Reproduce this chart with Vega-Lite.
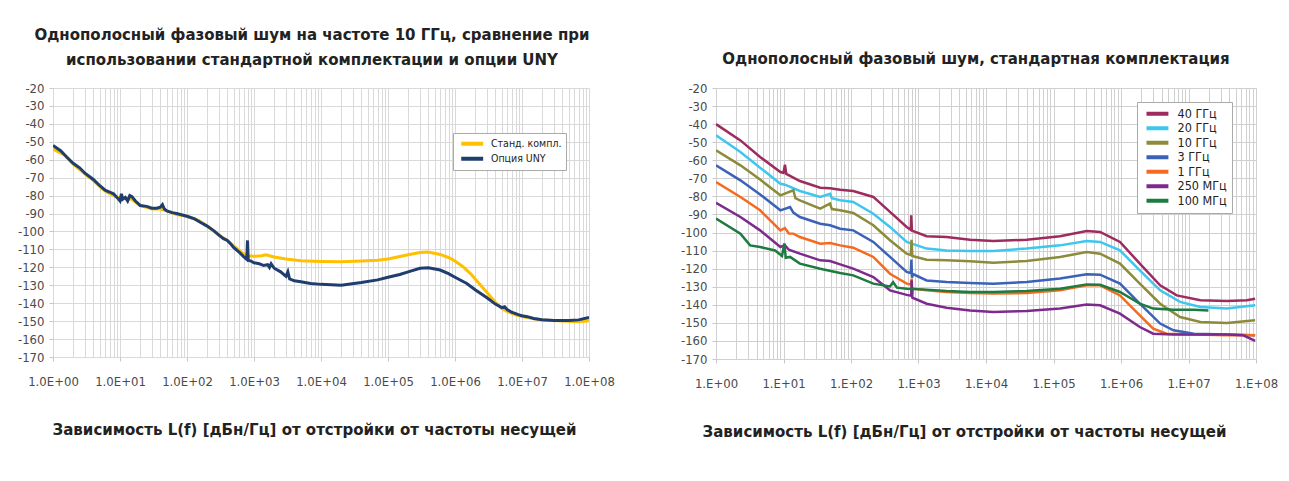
{
  "$schema": "https://vega.github.io/schema/vega-lite/v6.json",
  "background": "white",
  "padding": {"left": 17, "top": 28, "right": 5, "bottom": 5},
  "bounds": "flush",
  "spacing": 127,
  "config": {
    "view": {"stroke": null},
    "axis": {"gridColor": "#d9d9d9", "gridWidth": 1, "domain": false, "ticks": true, "tickColor": "#c8c8c8", "labelFont": "DejaVu Sans Condensed", "labelFontSize": 13, "labelColor": "#4a4a4a", "titleFont": "DejaVu Sans", "titleFontWeight": "bold", "titleFontSize": 15, "titleColor": "#222222"},
    "axisX": {"tickSize": 4, "labelPadding": 14, "titlePadding": 34, "labelFlush": false, "labelOverlap": false},
    "axisY": {"tickSize": 4, "labelPadding": 5, "labelOverlap": false},
    "title": {"font": "DejaVu Sans", "fontSize": 15, "fontWeight": "bold", "color": "#222222", "anchor": "middle"},
    "legend": {"orient": "none", "symbolType": "M-0.5,0H5.7", "symbolStrokeWidth": 4, "symbolSize": 50, "labelFont": "DejaVu Sans Condensed", "labelColor": "#222222", "fillColor": "white", "strokeColor": "#aaaaaa", "padding": 5, "rowPadding": 0.5, "labelOffset": 23}
  },
  "resolve": {"scale": {"color": "independent"}, "legend": {"color": "independent"}},
  "datasets": {
    "left": [
      {"s":"Станд. компл.","f":1,"L":-54},{"s":"Станд. компл.","f":1.5,"L":-57.5},{"s":"Станд. компл.","f":2,"L":-62.5},{"s":"Станд. компл.","f":3,"L":-68},{"s":"Станд. компл.","f":4,"L":-71.5},{"s":"Станд. компл.","f":5,"L":-75},{"s":"Станд. компл.","f":6,"L":-77.5},{"s":"Станд. компл.","f":8,"L":-80},{"s":"Станд. компл.","f":10,"L":-81.5},{"s":"Станд. компл.","f":12,"L":-81.5},{"s":"Станд. компл.","f":15,"L":-82},{"s":"Станд. компл.","f":20,"L":-85.5},{"s":"Станд. компл.","f":30,"L":-87.5},{"s":"Станд. компл.","f":40,"L":-87.5},{"s":"Станд. компл.","f":50,"L":-88.5},{"s":"Станд. компл.","f":70,"L":-90.5},{"s":"Станд. компл.","f":100,"L":-91.5},{"s":"Станд. компл.","f":150,"L":-94},{"s":"Станд. компл.","f":200,"L":-97},{"s":"Станд. компл.","f":300,"L":-102},{"s":"Станд. компл.","f":400,"L":-105},{"s":"Станд. компл.","f":500,"L":-108},{"s":"Станд. компл.","f":600,"L":-110.5},{"s":"Станд. компл.","f":700,"L":-112.5},{"s":"Станд. компл.","f":800,"L":-113.5},{"s":"Станд. компл.","f":1000,"L":-113.8},{"s":"Станд. компл.","f":1300,"L":-113.5},{"s":"Станд. компл.","f":1500,"L":-113},{"s":"Станд. компл.","f":2000,"L":-114.2},{"s":"Станд. компл.","f":3000,"L":-115.3},{"s":"Станд. компл.","f":5000,"L":-116.3},{"s":"Станд. компл.","f":10000,"L":-116.7},{"s":"Станд. компл.","f":20000,"L":-116.9},{"s":"Станд. компл.","f":40000,"L":-116.5},{"s":"Станд. компл.","f":70000,"L":-116},{"s":"Станд. компл.","f":100000,"L":-115.3},{"s":"Станд. компл.","f":150000,"L":-114},{"s":"Станд. компл.","f":200000,"L":-113},{"s":"Станд. компл.","f":300000,"L":-111.7},{"s":"Станд. компл.","f":400000,"L":-111.5},{"s":"Станд. компл.","f":600000,"L":-112.8},{"s":"Станд. компл.","f":800000,"L":-114.5},{"s":"Станд. компл.","f":1000000,"L":-116.5},{"s":"Станд. компл.","f":1300000,"L":-119.5},{"s":"Станд. компл.","f":1700000,"L":-123.5},{"s":"Станд. компл.","f":2000000,"L":-126.5},{"s":"Станд. компл.","f":3000000,"L":-134},{"s":"Станд. компл.","f":4000000,"L":-139.5},{"s":"Станд. компл.","f":5000000,"L":-143},{"s":"Станд. компл.","f":6000000,"L":-144.5},{"s":"Станд. компл.","f":8000000,"L":-146.5},{"s":"Станд. компл.","f":10000000,"L":-147.5},{"s":"Станд. компл.","f":15000000,"L":-148.7},{"s":"Станд. компл.","f":20000000,"L":-149.4},{"s":"Станд. компл.","f":40000000,"L":-149.9},{"s":"Станд. компл.","f":70000000,"L":-150.3},{"s":"Станд. компл.","f":100000000,"L":-149.8},
      {"s":"Опция UNY","f":1,"L":-52},{"s":"Опция UNY","f":1.3,"L":-55},{"s":"Опция UNY","f":1.6,"L":-58.5},{"s":"Опция UNY","f":2,"L":-62},{"s":"Опция UNY","f":2.5,"L":-64.5},{"s":"Опция UNY","f":3,"L":-67.5},{"s":"Опция UNY","f":4,"L":-71},{"s":"Опция UNY","f":5,"L":-74.5},{"s":"Опция UNY","f":6,"L":-77},{"s":"Опция UNY","f":7,"L":-78},{"s":"Опция UNY","f":8,"L":-79},{"s":"Опция UNY","f":9,"L":-81},{"s":"Опция UNY","f":10,"L":-83},{"s":"Опция UNY","f":10.5,"L":-79},{"s":"Опция UNY","f":11,"L":-82},{"s":"Опция UNY","f":12,"L":-81},{"s":"Опция UNY","f":13,"L":-83},{"s":"Опция UNY","f":14,"L":-80},{"s":"Опция UNY","f":15,"L":-80.5},{"s":"Опция UNY","f":17,"L":-83},{"s":"Опция UNY","f":20,"L":-85.5},{"s":"Опция UNY","f":25,"L":-86},{"s":"Опция UNY","f":30,"L":-87},{"s":"Опция UNY","f":35,"L":-87},{"s":"Опция UNY","f":40,"L":-86.5},{"s":"Опция UNY","f":43,"L":-85},{"s":"Опция UNY","f":46,"L":-87.5},{"s":"Опция UNY","f":50,"L":-88.5},{"s":"Опция UNY","f":60,"L":-89.5},{"s":"Опция UNY","f":70,"L":-90},{"s":"Опция UNY","f":80,"L":-90.5},{"s":"Опция UNY","f":100,"L":-91.5},{"s":"Опция UNY","f":130,"L":-93},{"s":"Опция UNY","f":160,"L":-95},{"s":"Опция UNY","f":200,"L":-97},{"s":"Опция UNY","f":250,"L":-99.5},{"s":"Опция UNY","f":300,"L":-102},{"s":"Опция UNY","f":350,"L":-104},{"s":"Опция UNY","f":400,"L":-105},{"s":"Опция UNY","f":450,"L":-107},{"s":"Опция UNY","f":500,"L":-109},{"s":"Опция UNY","f":600,"L":-111.5},{"s":"Опция UNY","f":700,"L":-114},{"s":"Опция UNY","f":780,"L":-115.5},{"s":"Опция UNY","f":800,"L":-105},{"s":"Опция UNY","f":820,"L":-116},{"s":"Опция UNY","f":900,"L":-116.5},{"s":"Опция UNY","f":1000,"L":-117.5},{"s":"Опция UNY","f":1200,"L":-118},{"s":"Опция UNY","f":1400,"L":-119},{"s":"Опция UNY","f":1600,"L":-118.5},{"s":"Опция UNY","f":1700,"L":-120},{"s":"Опция UNY","f":1800,"L":-118},{"s":"Опция UNY","f":2000,"L":-120.5},{"s":"Опция UNY","f":2500,"L":-122.5},{"s":"Опция UNY","f":3000,"L":-125},{"s":"Опция UNY","f":3200,"L":-122.5},{"s":"Опция UNY","f":3400,"L":-126.5},{"s":"Опция UNY","f":4000,"L":-127.5},{"s":"Опция UNY","f":5000,"L":-128},{"s":"Опция UNY","f":7000,"L":-129},{"s":"Опция UNY","f":10000,"L":-129.5},{"s":"Опция UNY","f":20000,"L":-130},{"s":"Опция UNY","f":40000,"L":-128.5},{"s":"Опция UNY","f":70000,"L":-127},{"s":"Опция UNY","f":100000,"L":-125.5},{"s":"Опция UNY","f":150000,"L":-124},{"s":"Опция UNY","f":200000,"L":-122.5},{"s":"Опция UNY","f":300000,"L":-120.5},{"s":"Опция UNY","f":400000,"L":-120.3},{"s":"Опция UNY","f":600000,"L":-121.5},{"s":"Опция UNY","f":800000,"L":-123.5},{"s":"Опция UNY","f":1000000,"L":-125.5},{"s":"Опция UNY","f":1500000,"L":-129},{"s":"Опция UNY","f":2000000,"L":-132.5},{"s":"Опция UNY","f":3000000,"L":-137},{"s":"Опция UNY","f":4000000,"L":-140.5},{"s":"Опция UNY","f":5000000,"L":-142.5},{"s":"Опция UNY","f":5500000,"L":-142},{"s":"Опция UNY","f":6000000,"L":-143.5},{"s":"Опция UNY","f":7000000,"L":-145},{"s":"Опция UNY","f":9000000,"L":-146.5},{"s":"Опция UNY","f":10000000,"L":-147},{"s":"Опция UNY","f":12000000,"L":-147.5},{"s":"Опция UNY","f":15000000,"L":-148.5},{"s":"Опция UNY","f":20000000,"L":-149.2},{"s":"Опция UNY","f":30000000,"L":-149.7},{"s":"Опция UNY","f":50000000,"L":-149.6},{"s":"Опция UNY","f":70000000,"L":-149.3},{"s":"Опция UNY","f":100000000,"L":-147.9}
    ],
    "right": [
      {"s":"40 ГГц","f":1,"L":-40},{"s":"40 ГГц","f":2.3,"L":-49},{"s":"40 ГГц","f":4.5,"L":-58.2},{"s":"40 ГГц","f":9,"L":-66.5},{"s":"40 ГГц","f":10,"L":-67},{"s":"40 ГГц","f":10.5,"L":-62.5},{"s":"40 ГГц","f":11,"L":-67.5},{"s":"40 ГГц","f":17.5,"L":-71.5},{"s":"40 ГГц","f":35,"L":-75.2},{"s":"40 ГГц","f":49,"L":-75.5},{"s":"40 ГГц","f":69,"L":-76.3},{"s":"40 ГГц","f":108,"L":-77},{"s":"40 ГГц","f":214,"L":-80.3},{"s":"40 ГГц","f":378,"L":-88.6},{"s":"40 ГГц","f":668,"L":-96.9},{"s":"40 ГГц","f":770,"L":-98.5},{"s":"40 ГГц","f":780,"L":-90.5},{"s":"40 ГГц","f":800,"L":-99},{"s":"40 ГГц","f":1320,"L":-102},{"s":"40 ГГц","f":2600,"L":-102.5},{"s":"40 ГГц","f":5800,"L":-104},{"s":"40 ГГц","f":12850,"L":-104.7},{"s":"40 ГГц","f":40000,"L":-104},{"s":"40 ГГц","f":125000,"L":-102.1},{"s":"40 ГГц","f":310000,"L":-99.2},{"s":"40 ГГц","f":490000,"L":-99.7},{"s":"40 ГГц","f":966000,"L":-105.2},{"s":"40 ГГц","f":1900000,"L":-117.2},{"s":"40 ГГц","f":3800000,"L":-129.2},{"s":"40 ГГц","f":6700000,"L":-134.8},{"s":"40 ГГц","f":15000000,"L":-137.5},{"s":"40 ГГц","f":37000000,"L":-137.9},{"s":"40 ГГц","f":73000000,"L":-137.5},{"s":"40 ГГц","f":97000000,"L":-136.6},
      {"s":"20 ГГц","f":1,"L":-46.2},{"s":"20 ГГц","f":2.3,"L":-55.4},{"s":"20 ГГц","f":4.5,"L":-64.1},{"s":"20 ГГц","f":9,"L":-73},{"s":"20 ГГц","f":10.5,"L":-73.5},{"s":"20 ГГц","f":17.5,"L":-77},{"s":"20 ГГц","f":35,"L":-80.3},{"s":"20 ГГц","f":49,"L":-78.5},{"s":"20 ГГц","f":52,"L":-81},{"s":"20 ГГц","f":69,"L":-82.1},{"s":"20 ГГц","f":108,"L":-83.1},{"s":"20 ГГц","f":214,"L":-89.6},{"s":"20 ГГц","f":378,"L":-96.9},{"s":"20 ГГц","f":668,"L":-105.2},{"s":"20 ГГц","f":1320,"L":-108.9},{"s":"20 ГГц","f":2600,"L":-109.9},{"s":"20 ГГц","f":5800,"L":-110.2},{"s":"20 ГГц","f":12850,"L":-110.2},{"s":"20 ГГц","f":40000,"L":-108.9},{"s":"20 ГГц","f":125000,"L":-107.1},{"s":"20 ГГц","f":310000,"L":-104.7},{"s":"20 ГГц","f":490000,"L":-105.2},{"s":"20 ГГц","f":966000,"L":-109.9},{"s":"20 ГГц","f":1900000,"L":-120.9},{"s":"20 ГГц","f":3800000,"L":-132},{"s":"20 ГГц","f":7500000,"L":-138.4},{"s":"20 ГГц","f":15000000,"L":-141.2},{"s":"20 ГГц","f":37000000,"L":-142.1},{"s":"20 ГГц","f":97000000,"L":-140.3},
      {"s":"10 ГГц","f":1,"L":-54.5},{"s":"10 ГГц","f":2.3,"L":-62.8},{"s":"10 ГГц","f":4.5,"L":-70.7},{"s":"10 ГГц","f":9,"L":-79.4},{"s":"10 ГГц","f":14,"L":-76.6},{"s":"10 ГГц","f":15,"L":-81},{"s":"10 ГГц","f":17.5,"L":-82.2},{"s":"10 ГГц","f":35,"L":-86.8},{"s":"10 ГГц","f":49,"L":-84},{"s":"10 ГГц","f":52,"L":-87},{"s":"10 ГГц","f":69,"L":-87.7},{"s":"10 ГГц","f":108,"L":-89.2},{"s":"10 ГГц","f":214,"L":-96},{"s":"10 ГГц","f":378,"L":-104.3},{"s":"10 ГГц","f":668,"L":-111.7},{"s":"10 ГГц","f":770,"L":-112.5},{"s":"10 ГГц","f":790,"L":-104},{"s":"10 ГГц","f":810,"L":-113},{"s":"10 ГГц","f":1320,"L":-115},{"s":"10 ГГц","f":2600,"L":-115.4},{"s":"10 ГГц","f":5800,"L":-115.9},{"s":"10 ГГц","f":12850,"L":-116.7},{"s":"10 ГГц","f":40000,"L":-115.8},{"s":"10 ГГц","f":125000,"L":-113.5},{"s":"10 ГГц","f":310000,"L":-110.8},{"s":"10 ГГц","f":490000,"L":-111.7},{"s":"10 ГГц","f":966000,"L":-117.2},{"s":"10 ГГц","f":1900000,"L":-128.3},{"s":"10 ГГц","f":3800000,"L":-139.4},{"s":"10 ГГц","f":7500000,"L":-146.8},{"s":"10 ГГц","f":15000000,"L":-149.5},{"s":"10 ГГц","f":37000000,"L":-150.1},{"s":"10 ГГц","f":97000000,"L":-148.6},
      {"s":"3 ГГц","f":1,"L":-62.8},{"s":"3 ГГц","f":2.3,"L":-71.1},{"s":"3 ГГц","f":4.5,"L":-78.9},{"s":"3 ГГц","f":9,"L":-87.7},{"s":"3 ГГц","f":12.5,"L":-85.9},{"s":"3 ГГц","f":14,"L":-89},{"s":"3 ГГц","f":17.5,"L":-91.4},{"s":"3 ГГц","f":35,"L":-95.1},{"s":"3 ГГц","f":49,"L":-96},{"s":"3 ГГц","f":69,"L":-97.9},{"s":"3 ГГц","f":108,"L":-98.8},{"s":"3 ГГц","f":214,"L":-105.2},{"s":"3 ГГц","f":378,"L":-113.5},{"s":"3 ГГц","f":668,"L":-121.8},{"s":"3 ГГц","f":770,"L":-122.5},{"s":"3 ГГц","f":785,"L":-115},{"s":"3 ГГц","f":800,"L":-125},{"s":"3 ГГц","f":830,"L":-123},{"s":"3 ГГц","f":1320,"L":-126.5},{"s":"3 ГГц","f":2600,"L":-127.4},{"s":"3 ГГц","f":5800,"L":-127.9},{"s":"3 ГГц","f":12850,"L":-128.3},{"s":"3 ГГц","f":40000,"L":-127.4},{"s":"3 ГГц","f":125000,"L":-125.5},{"s":"3 ГГц","f":310000,"L":-123.1},{"s":"3 ГГц","f":490000,"L":-123.3},{"s":"3 ГГц","f":966000,"L":-128.3},{"s":"3 ГГц","f":1900000,"L":-139.4},{"s":"3 ГГц","f":3800000,"L":-150.4},{"s":"3 ГГц","f":6000000,"L":-154.1},{"s":"3 ГГц","f":12000000,"L":-156},{"s":"3 ГГц","f":37000000,"L":-156.5},{"s":"3 ГГц","f":97000000,"L":-156.9},
      {"s":"1 ГГц","f":1,"L":-72},{"s":"1 ГГц","f":2.3,"L":-80.3},{"s":"1 ГГц","f":4.5,"L":-87.7},{"s":"1 ГГц","f":9,"L":-98.8},{"s":"1 ГГц","f":10.5,"L":-97.5},{"s":"1 ГГц","f":12,"L":-100.5},{"s":"1 ГГц","f":14,"L":-100.6},{"s":"1 ГГц","f":17.5,"L":-102.5},{"s":"1 ГГц","f":35,"L":-106.2},{"s":"1 ГГц","f":49,"L":-105.8},{"s":"1 ГГц","f":69,"L":-107.1},{"s":"1 ГГц","f":108,"L":-108.4},{"s":"1 ГГц","f":214,"L":-113.5},{"s":"1 ГГц","f":378,"L":-122.8},{"s":"1 ГГц","f":668,"L":-128.3},{"s":"1 ГГц","f":780,"L":-128.8},{"s":"1 ГГц","f":792,"L":-125.5},{"s":"1 ГГц","f":805,"L":-134},{"s":"1 ГГц","f":830,"L":-131},{"s":"1 ГГц","f":1320,"L":-132},{"s":"1 ГГц","f":2600,"L":-132.9},{"s":"1 ГГц","f":5800,"L":-133.5},{"s":"1 ГГц","f":12850,"L":-133.8},{"s":"1 ГГц","f":40000,"L":-133.5},{"s":"1 ГГц","f":125000,"L":-132},{"s":"1 ГГц","f":310000,"L":-129.2},{"s":"1 ГГц","f":490000,"L":-129.2},{"s":"1 ГГц","f":966000,"L":-134.8},{"s":"1 ГГц","f":1900000,"L":-145.8},{"s":"1 ГГц","f":3000000,"L":-153.2},{"s":"1 ГГц","f":4750000,"L":-156},{"s":"1 ГГц","f":12000000,"L":-156.5},{"s":"1 ГГц","f":37000000,"L":-156.9},{"s":"1 ГГц","f":97000000,"L":-156.9},
      {"s":"250 МГц","f":1,"L":-83.5},{"s":"250 МГц","f":2.3,"L":-91.4},{"s":"250 МГц","f":4.5,"L":-98.8},{"s":"250 МГц","f":9,"L":-108},{"s":"250 МГц","f":10.5,"L":-107},{"s":"250 МГц","f":12,"L":-109.5},{"s":"250 МГц","f":17.5,"L":-111.7},{"s":"250 МГц","f":35,"L":-115.4},{"s":"250 МГц","f":49,"L":-115.8},{"s":"250 МГц","f":69,"L":-117.6},{"s":"250 МГц","f":108,"L":-120},{"s":"250 МГц","f":214,"L":-124.6},{"s":"250 МГц","f":378,"L":-132},{"s":"250 МГц","f":668,"L":-134.5},{"s":"250 МГц","f":780,"L":-135},{"s":"250 МГц","f":792,"L":-126.5},{"s":"250 МГц","f":810,"L":-136},{"s":"250 МГц","f":1320,"L":-139.4},{"s":"250 МГц","f":2600,"L":-141.6},{"s":"250 МГц","f":5800,"L":-143.1},{"s":"250 МГц","f":12850,"L":-144},{"s":"250 МГц","f":40000,"L":-143.4},{"s":"250 МГц","f":125000,"L":-142.1},{"s":"250 МГц","f":310000,"L":-139.9},{"s":"250 МГц","f":490000,"L":-140.3},{"s":"250 МГц","f":966000,"L":-144.9},{"s":"250 МГц","f":1900000,"L":-152.3},{"s":"250 МГц","f":3000000,"L":-156},{"s":"250 МГц","f":6000000,"L":-156.5},{"s":"250 МГц","f":12000000,"L":-156.5},{"s":"250 МГц","f":37000000,"L":-156.5},{"s":"250 МГц","f":65000000,"L":-156.9},{"s":"250 МГц","f":97000000,"L":-160},
      {"s":"100 МГц","f":1,"L":-92.3},{"s":"100 МГц","f":2.3,"L":-100.6},{"s":"100 МГц","f":3.2,"L":-107.1},{"s":"100 МГц","f":4.5,"L":-108},{"s":"100 МГц","f":7.5,"L":-109.9},{"s":"100 МГц","f":9.5,"L":-113},{"s":"100 МГц","f":10.3,"L":-106},{"s":"100 МГц","f":10.8,"L":-114},{"s":"100 МГц","f":12.5,"L":-113.5},{"s":"100 МГц","f":17.5,"L":-117.2},{"s":"100 МГц","f":35,"L":-120},{"s":"100 МГц","f":69,"L":-122.4},{"s":"100 МГц","f":108,"L":-123.7},{"s":"100 МГц","f":214,"L":-128.3},{"s":"100 МГц","f":378,"L":-129.8},{"s":"100 МГц","f":420,"L":-127.5},{"s":"100 МГц","f":480,"L":-130.5},{"s":"100 МГц","f":668,"L":-131.1},{"s":"100 МГц","f":1320,"L":-131.6},{"s":"100 МГц","f":2600,"L":-132.4},{"s":"100 МГц","f":5800,"L":-132.9},{"s":"100 МГц","f":12850,"L":-132.9},{"s":"100 МГц","f":40000,"L":-132.4},{"s":"100 МГц","f":125000,"L":-131.1},{"s":"100 МГц","f":310000,"L":-128.7},{"s":"100 МГц","f":490000,"L":-128.9},{"s":"100 МГц","f":966000,"L":-132.9},{"s":"100 МГц","f":1900000,"L":-139.4},{"s":"100 МГц","f":3000000,"L":-142.1},{"s":"100 МГц","f":6000000,"L":-142.7},{"s":"100 МГц","f":12000000,"L":-142.7},{"s":"100 МГц","f":19700000,"L":-143.1}
    ]
  },
  "hconcat": [
    {
      "width": 536,
      "height": 269,
      "title": {"text": ["Однополосный фазовый шум на частоте 10 ГГц, сравнение при", "использовании стандартной комплектации и опции UNY"], "lineHeight": 25, "offset": 14, "dx": -9},
      "data": {"name": "left"},
      "mark": {"type": "line", "strokeWidth": 3, "clip": true},
      "encoding": {
        "x": {"field": "f", "type": "quantitative", "scale": {"type": "log", "domain": [1, 100000000], "nice": false},
          "axis": {"title": "Зависимость L(f) [дБн/Гц] от отстройки от частоты несущей", "titleX": 261, "titleAnchor": "middle",
            "tickOpacity": {"condition": {"test": "abs(log(datum.value)/LN10 - round(log(datum.value)/LN10)) < 0.001", "value": 1}, "value": 0},
            "values": [1,2,3,4,5,6,7,8,9,10,20,30,40,50,60,70,80,90,100,200,300,400,500,600,700,800,900,1000,2000,3000,4000,5000,6000,7000,8000,9000,10000,20000,30000,40000,50000,60000,70000,80000,90000,100000,200000,300000,400000,500000,600000,700000,800000,900000,1000000,2000000,3000000,4000000,5000000,6000000,7000000,8000000,9000000,10000000,20000000,30000000,40000000,50000000,60000000,70000000,80000000,90000000,100000000],
            "labelExpr": "abs(log(datum.value)/LN10 - round(log(datum.value)/LN10)) < 0.001 ? '1.0E+0' + round(log(datum.value)/LN10) : ''"}},
        "y": {"field": "L", "type": "quantitative", "scale": {"domain": [-170, -20], "nice": false, "zero": false},
          "axis": {"title": null, "values": [-170,-160,-150,-140,-130,-120,-110,-100,-90,-80,-70,-60,-50,-40,-30,-20], "labelExpr": "'-' + abs(datum.value)"}},
        "color": {"field": "s", "type": "nominal", "sort": null,
          "scale": {"domain": ["Станд. компл.", "Опция UNY"], "range": ["#FFC000", "#1F3D6E"]},
          "legend": {"title": null, "legendX": 400, "legendY": 45, "labelFontSize": 10.5, "clipHeight": 13.5, "rowPadding": 1, "padding": 4, "labelOffset": 22}}
      }
    },
    {
      "width": 540,
      "height": 271,
      "title": {"text": "Однополосный фазовый шум, стандартная комплектация", "offset": 15, "dx": -10},
      "data": {"name": "right"},
      "mark": {"type": "line", "strokeWidth": 2.5, "clip": true},
      "encoding": {
        "x": {"field": "f", "type": "quantitative", "scale": {"type": "log", "domain": [1, 100000000], "nice": false},
          "axis": {"title": "Зависимость L(f) [дБн/Гц] от отстройки от частоты несущей", "titleX": 248, "titleAnchor": "middle", "gridColor": "#d0d0d0",
            "tickOpacity": {"condition": {"test": "abs(log(datum.value)/LN10 - round(log(datum.value)/LN10)) < 0.001", "value": 1}, "value": 0},
            "values": [1,2,3,4,5,6,7,8,9,10,20,30,40,50,60,70,80,90,100,200,300,400,500,600,700,800,900,1000,2000,3000,4000,5000,6000,7000,8000,9000,10000,20000,30000,40000,50000,60000,70000,80000,90000,100000,200000,300000,400000,500000,600000,700000,800000,900000,1000000,2000000,3000000,4000000,5000000,6000000,7000000,8000000,9000000,10000000,20000000,30000000,40000000,50000000,60000000,70000000,80000000,90000000,100000000],
            "labelExpr": "abs(log(datum.value)/LN10 - round(log(datum.value)/LN10)) < 0.001 ? '1.E+0' + round(log(datum.value)/LN10) : ''"}},
        "y": {"field": "L", "type": "quantitative", "scale": {"domain": [-170, -20], "nice": false, "zero": false},
          "axis": {"title": null, "gridColor": "#d0d0d0", "values": [-170,-160,-150,-140,-130,-120,-110,-100,-90,-80,-70,-60,-50,-40,-30,-20], "labelExpr": "'-' + abs(datum.value)"}},
        "color": {"field": "s", "type": "nominal", "sort": null,
          "scale": {"domain": ["40 ГГц", "20 ГГц", "10 ГГц", "3 ГГц", "1 ГГц", "250 МГц", "100 МГц"], "range": ["#9E2B5E", "#3CC6F0", "#8B8B3A", "#3A62B8", "#F46A1F", "#7D2A8E", "#1E7B3F"]},
          "legend": {"title": null, "legendX": 421, "legendY": 14, "labelFontSize": 12.5, "clipHeight": 13.5, "rowPadding": 0.5, "labelOffset": 23}}
      }
    }
  ]
}
